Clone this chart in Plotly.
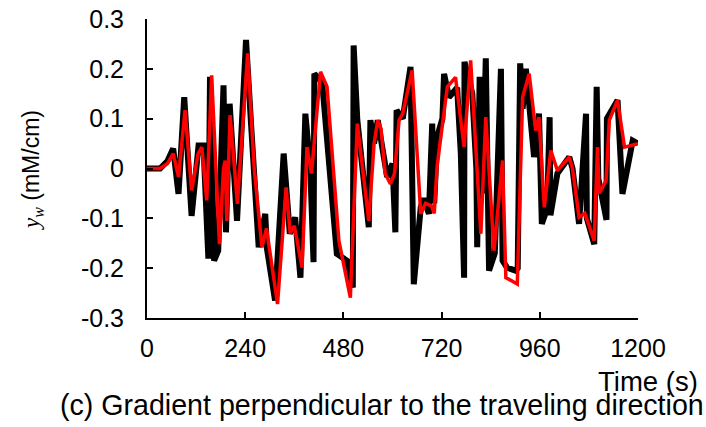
import plotly.graph_objects as go

# time (s) and gradient values
black_t = [0, 32, 50, 64, 77, 91, 109, 126, 138, 150, 154, 164, 174, 187, 193, 202, 220,
           242, 255, 273, 289, 293, 313, 334, 349, 362, 375, 387, 399, 407, 409, 428, 464,
           489, 503, 505, 514, 542, 546, 555, 564, 587, 600, 607, 610, 625, 644, 652, 669,
           676, 689, 697, 702, 709, 722, 726, 738, 758, 767, 775, 776, 795, 805, 807, 813,
           820, 828, 836, 850, 856, 865, 869, 880, 901, 906, 912, 918, 926, 946, 958, 965,
           978, 984, 986, 1003, 1032, 1040, 1056, 1073, 1075, 1093, 1099, 1103, 1123, 1124,
           1150, 1162, 1187, 1200]
black_v = [0, 0, 0.015, 0.04, -0.051, 0.143, -0.095, 0.046, 0.046, -0.181, 0.184, -0.185,
           -0.165, 0.167, -0.128, 0.13, -0.105, 0.258, 0.08, -0.158, -0.091, -0.16, -0.265,
           0.03, -0.131, -0.098, -0.219, 0.11, 0.003, -0.188, 0.19, 0.174, -0.171, -0.185,
           -0.239, 0.247, 0.097, -0.118, 0.097, 0.05, 0.097, -0.017, 0.01, -0.128, 0.117, 0.1,
           0.204, -0.232, -0.078, -0.06, -0.091, 0.09, -0.07, 0.063, 0.1, 0.19, 0.143, 0.162,
           0.03, -0.219, 0.214, 0.15, 0.0, -0.158, 0.184, -0.05, 0.221, -0.205, -0.17, -0.038,
           0.2, -0.185, -0.199, -0.205, -0.2, 0.211, 0.12, 0.2, 0.023, 0.11, -0.111, -0.08,
           0.103, -0.094, -0.01, 0.023, 0.0, -0.111, 0.11, -0.1, -0.152, 0.164, -0.02, -0.103,
           0.1, 0.137, -0.051, 0.056, 0.05]

red_t = [0, 32, 50, 64, 77, 93, 109, 125, 134, 146, 158, 177, 187, 191, 195, 203, 221, 246,
         262, 281, 292, 319, 340, 350, 360, 379, 391, 402, 424, 440, 469, 497, 514, 542, 555,
         564, 572, 582, 595, 605, 616, 625, 648, 669, 681, 695, 702, 709, 715, 734, 754, 763,
         775, 791, 816, 828, 848, 869, 877, 905, 918, 934, 950, 958, 971, 987, 1003, 1032,
         1040, 1056, 1070, 1093, 1101, 1105, 1122, 1130, 1150, 1167, 1200]
red_v = [0, 0, 0.01, 0.03, -0.017, 0.117, -0.044, 0.03, 0.043, -0.064, 0.187, -0.152, 0.0,
         0.016, -0.105, 0.107, -0.071, 0.231, 0.0, -0.158, -0.12, -0.272, -0.038, -0.13,
         -0.115, -0.199, 0.043, -0.01, 0.194, 0.164, -0.145, -0.259, 0.09, -0.105, 0.05,
         0.097, 0.08, -0.01, -0.031, -0.01, 0.097, 0.11, 0.197, -0.091, -0.07, -0.075, -0.09,
         0.003, 0.043, 0.164, 0.183, 0.12, 0.043, 0.217, -0.131, 0.103, -0.165, 0.016, -0.219,
         -0.232, 0.143, 0.19, 0.076, 0.103, -0.078, 0.036, -0.004, 0.023, 0.0, -0.098, -0.09,
         -0.145, 0.043, -0.05, -0.024, 0.097, 0.137, 0.043, 0.05]

x_ticks = [0, 240, 480, 720, 960, 1200]
y_ticks = [-0.3, -0.2, -0.1, 0, 0.1, 0.2, 0.3]
y_tick_text = ["-0.3", "-0.2", "-0.1", "0", "0.1", "0.2", "0.3"]

FONT = "Liberation Sans, Arial, sans-serif"

fig = go.Figure()
fig.add_trace(go.Scatter(x=black_t, y=black_v, mode="lines", line=dict(color="black", width=6),
                         showlegend=False))
fig.add_trace(go.Scatter(x=red_t, y=red_v, mode="lines", line=dict(color="#ff0000", width=3.5),
                         showlegend=False))

fig.update_layout(
    template="none",
    width=706, height=427,
    margin=dict(l=147, r=68, t=19, b=109, autoexpand=False),
    paper_bgcolor="white", plot_bgcolor="white",
    font=dict(family=FONT, color="black"),
)
fig.update_xaxes(range=[0, 1200], tickvals=x_ticks, showgrid=False, zeroline=False,
                 automargin=False, showline=True, linecolor="black", linewidth=2,
                 ticks="inside", ticklen=6, tickwidth=2, tickcolor="black",
                 tickfont=dict(size=25, family=FONT), ticklabelstandoff=7)
fig.update_yaxes(range=[-0.3, 0.3], tickvals=y_ticks, ticktext=y_tick_text, showgrid=False,
                 automargin=False, zeroline=False, showline=True, linecolor="black",
                 linewidth=2, ticks="inside", ticklen=6, tickwidth=2, tickcolor="black",
                 tickfont=dict(size=25, family=FONT), ticklabelstandoff=16)

fig.add_annotation(text="Time (s)", xref="paper", yref="paper", x=1.126, y=-0.212,
                   xanchor="right", yanchor="middle", showarrow=False,
                   font=dict(size=27.5, family=FONT))
fig.add_annotation(text="(c) Gradient perpendicular to the traveling direction",
                   xref="paper", yref="paper", x=0.478, y=-0.292, xanchor="center",
                   yanchor="middle", showarrow=False, font=dict(size=28.6, family=FONT))
fig.add_annotation(
    text="<span style='font-family:Liberation Serif, Times New Roman, serif'><i>y<sub>w</sub></i></span> (mM/cm)",
    xref="paper", yref="paper", x=-0.232, y=0.495, textangle=-90, xanchor="center",
    yanchor="middle", showarrow=False, font=dict(size=23, family=FONT))

fig.write_html("out.html", config={"displayModeBar": False},
               post_script="document.body.style.margin='0';")
